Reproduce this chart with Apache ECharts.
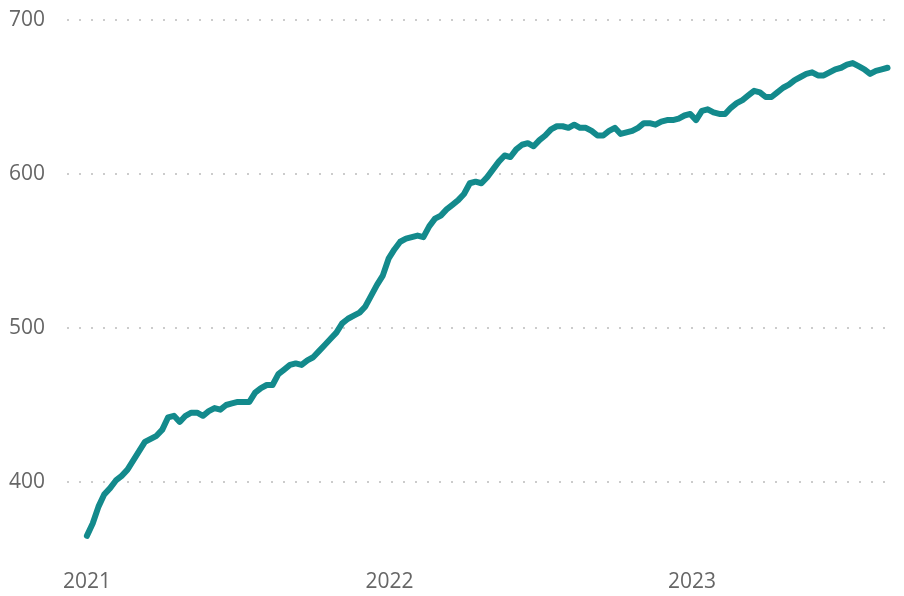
<!DOCTYPE html>
<html>
<head>
<meta charset="utf-8">
<script src="https://cdn.jsdelivr.net/npm/echarts@6/dist/echarts.min.js"></script>
<style>
  html, body { margin: 0; padding: 0; background: #fff; }
  #main { width: 904px; height: 596px; }
</style>
</head>
<body>
<div id="main"></div>
<script>
// weekly readings, first one on 2021-01-01
var startDate = '2021-01-01';
var values = [
  365, 373, 384, 392, 396, 401, 404, 408, 414, 420,
  426, 428, 430, 434, 442, 443, 439, 443, 445, 445,
  443, 446, 448, 447, 450, 451, 452, 452, 452, 458,
  461, 463, 463, 470, 473, 476, 477, 476, 479, 481,
  485, 489, 493, 497, 503, 506, 508, 510, 514, 521,
  528, 534, 545, 551, 556, 558, 559, 560, 559, 566,
  571, 573, 577, 580, 583, 587, 594, 595, 594, 598,
  603, 608, 612, 611, 616, 619, 620, 618, 622, 625,
  629, 631, 631, 630, 632, 630, 630, 628, 625, 625,
  628, 630, 626, 627, 628, 630, 633, 633, 632, 634,
  635, 635, 636, 638, 639, 635, 641, 642, 640, 639,
  639, 643, 646, 648, 651, 654, 653, 650, 650, 653,
  656, 658, 661, 663, 665, 666, 664, 664, 666, 668,
  669, 671, 672, 670, 668, 665, 667, 668, 669
];
var yearTicks = ['2021-01-01', '2022-01-01', '2023-01-01'];
var yTicks = [400, 500, 600, 700];

var chart = echarts.init(document.getElementById('main'));

function ts(d) { return new Date(d + 'T00:00:00Z').getTime(); }

var t0 = ts(startDate);
var week = 7 * 24 * 3600 * 1000;
var seriesData = values.map(function (v, i) {
  return [t0 + i * week, v];
});

var labelFont = '"Segoe UI", "Open Sans", sans-serif';

var option = {
  animation: false,
  grid: { left: 67, right: 9, top: 20, bottom: 37 },
  xAxis: {
    type: 'value',
    min: ts('2020-12-08'),
    max: ts('2023-09-03'),
    axisLine: { show: false },
    axisTick: { show: false, customValues: yearTicks.map(ts) },
    splitLine: { show: false },
    axisLabel: {
      customValues: yearTicks.map(ts),
      formatter: function (v) { return String(new Date(v).getUTCFullYear()); },
      color: '#666',
      fontSize: 21,
      fontFamily: labelFont,
      margin: 13
    }
  },
  yAxis: {
    type: 'value',
    min: 350,
    max: 700,
    axisLine: { show: false },
    axisTick: { show: false, customValues: yTicks },
    axisLabel: {
      customValues: yTicks,
      color: '#666',
      fontSize: 21,
      fontFamily: labelFont,
      margin: 22
    },
    splitLine: {
      show: true,
      lineStyle: { color: '#cccccc', width: 2, type: [2, 10] }
    }
  },
  series: [{
    type: 'line',
    data: seriesData,
    showSymbol: false,
    lineStyle: { color: '#138a8c', width: 6, cap: 'round', join: 'round' }
  }]
};

chart.setOption(option);
</script>
</body>
</html>
